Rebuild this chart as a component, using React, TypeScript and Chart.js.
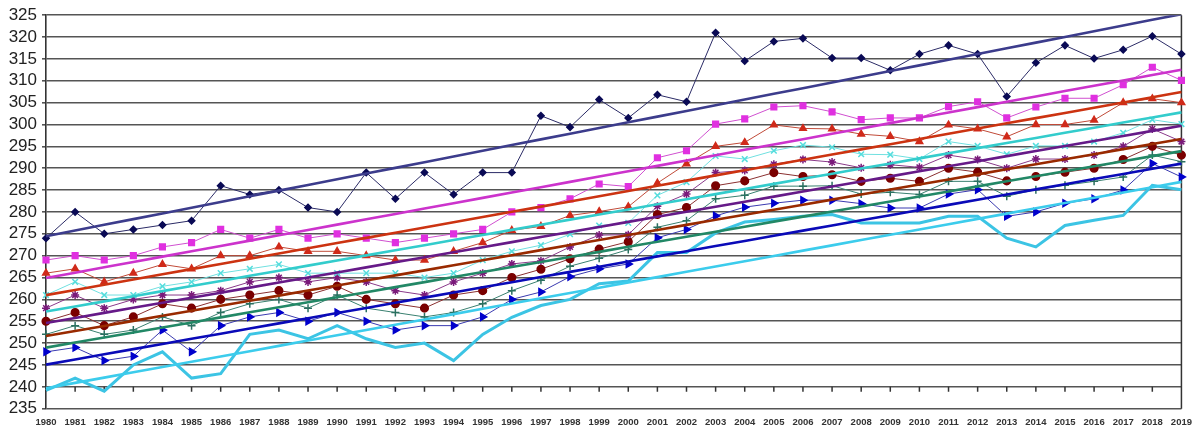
import React, { useEffect, useRef } from 'react';
import { Chart, registerables } from 'chart.js';

Chart.register(...registerables);

const years = [
  '1980', '1981', '1982', '1983', '1984', '1985', '1986', '1987', '1988', '1989',
  '1990', '1991', '1992', '1993', '1994', '1995', '1996', '1997', '1998', '1999',
  '2000', '2001', '2002', '2003', '2004', '2005', '2006', '2007', '2008', '2009',
  '2010', '2011', '2012', '2013', '2014', '2015', '2016', '2017', '2018', '2019',
];

// series, top to bottom
const navy = [274, 280, 275, 276, 277, 278, 286, 284, 285, 281, 280, 289, 283, 289, 284, 289, 289, 302, 299.4, 305.7,
  301.5, 306.8, 305.2, 321, 314.5, 319, 319.7, 315.2, 315.2, 312.4, 316.1, 318.1, 316.1, 306.4, 314.1, 318.1, 315.1, 317.1, 320.2, 316.1];
const magenta = [269, 270, 269, 270, 272, 273, 276, 274, 276, 274, 275, 274, 273, 274, 275, 276, 280, 281, 283, 286.4,
  285.8, 292.4, 294, 300.1, 301.3, 304, 304.3, 302.9, 301.1, 301.5, 301.5, 304.1, 305.2, 301.5, 304, 306, 306, 309.1, 313.1, 310.1];
const red = [266, 267, 264, 266, 268, 267, 270, 270, 272, 271, 271, 270, 269, 269, 271, 273, 275.8, 276.7, 279.2, 280.1,
  281.2, 286.6, 291, 295, 295.9, 299.9, 299.1, 299, 297.8, 297.3, 296.1, 299.9, 299, 297.2, 300, 300, 301, 305, 305.9, 305];
const cyan = [261, 264, 261, 261, 263, 264, 266, 267, 268, 266, 266, 266, 266, 265, 266, 269, 271, 272.4, 274.9, 276.9,
  277.5, 283.8, 286.8, 292.8, 292.1, 294, 295.3, 294.8, 293.2, 293.1, 292.1, 296.1, 295.1, 293.2, 295.1, 295.1, 296.1, 298.1, 301.1, 300.1];
const purple = [258, 261, 258, 260, 261, 261, 262, 264, 265, 264, 265, 264, 262, 261, 264, 266, 268.1, 268.8, 272, 274.7,
  274.8, 281.3, 284.1, 289, 289.5, 290.9, 292, 291.4, 290.1, 290.8, 290.2, 293, 292, 290, 292.1, 292.1, 293, 295, 299, 296.1];
const darkRed = [255, 257, 254, 256, 259, 258, 260, 261, 262, 261, 263, 260, 259, 258, 261, 262, 265, 266.9, 269.3, 271.5,
  273.2, 279.4, 281, 286, 287.1, 289, 288.1, 288.5, 287, 287.7, 287, 290, 289.1, 287.1, 288.1, 289.1, 290, 292, 295, 293];
const teal = [252, 254, 252, 253, 256, 254, 257, 259, 260, 258, 261, 258, 257, 256, 257, 259, 262, 264.4, 267.6, 269.4,
  271.4, 276.5, 278, 283, 283.8, 285.9, 285.9, 286, 284.1, 284.5, 284, 287, 287, 283.6, 285.1, 286.1, 287, 288, 293, 291.5];
const blue = [248, 249, 246, 247, 253, 248, 254, 256, 257, 255, 257, 255, 253, 254, 254, 256, 260, 261.7, 265.2, 267,
  268.1, 274.1, 276, 279.1, 281.1, 282, 282.7, 282.7, 281.9, 280.9, 280.9, 284.1, 285.1, 279, 280, 282, 283, 285, 291.1, 288];
const lightBlue = [239.2, 242, 239, 245, 248, 242, 243, 252, 253, 251, 254, 251, 249, 250, 246, 252, 255.9, 258.6, 260, 263.6,
  264.2, 270.7, 270.7, 275.2, 277.7, 278.3, 279, 279.4, 277.5, 277.5, 277.5, 279, 279, 274, 272, 276.9, 278.1, 279.2, 286.1, 285.1];

// least-squares trend, as Excel draws it
const trend = (vals: number[]) => {
  const n = vals.length;
  const mx = (n - 1) / 2;
  const my = vals.reduce((a, b) => a + b, 0) / n;
  let sxy = 0;
  let sxx = 0;
  vals.forEach((v, i) => {
    sxy += (i - mx) * (v - my);
    sxx += (i - mx) * (i - mx);
  });
  const b = sxy / sxx;
  return vals.map((_, i) => my + b * (i - mx));
};

const series = [
  { data: navy, line: '#2b2b66', point: '#0a0a55', style: 'rectRot', r: 3.2, trend: '#3c3c8c' },
  { data: magenta, line: '#d050d0', point: '#e030e0', style: 'rect', r: 4, trend: '#cc33cc' },
  { data: red, line: '#c04a38', point: '#d02a1a', style: 'triangle', r: 3.8, trend: '#cc3311' },
  { data: cyan, line: '#70e0e0', point: '#55dddd', style: 'crossRot', r: 4, trend: '#33cccc' },
  { data: purple, line: '#8a3a8a', point: '#7a1a7a', style: 'star', r: 4, trend: '#661a88' },
  { data: darkRed, line: '#8a3030', point: '#7a0000', style: 'circle', r: 3.8, trend: '#992a00' },
  { data: teal, line: '#3a8070', point: '#2a7060', style: 'cross', r: 4, trend: '#228866' },
  { data: blue, line: '#3a3ab0', point: '#0000cc', style: 'triangle', r: 4, rot: 90, trend: '#0a0ab8' },
  { data: lightBlue, line: '#3cc4e4', point: '#3cc4e4', style: 'circle', r: 0, trend: '#3cccec', thick: true },
];

const axisTicks = {
  id: 'axisTicks',
  beforeDatasetsDraw(chart: any) {
    const { ctx, chartArea, scales } = chart;
    const y240 = scales.y.getPixelForValue(240);
    ctx.save();
    ctx.strokeStyle = '#333';
    ctx.lineWidth = 1.5;
    ctx.beginPath();
    years.forEach((_, i) => {
      const x = scales.x.getPixelForValue(i);
      ctx.moveTo(x, y240);
      ctx.lineTo(x, y240 + 5);
    });
    ctx.moveTo(chartArea.right, chartArea.top);
    ctx.lineTo(chartArea.right, chartArea.bottom);
    ctx.stroke();
    ctx.restore();
  },
};

const App = () => {
  const canvasRef = useRef<HTMLCanvasElement>(null);

  useEffect(() => {
    const datasets: any[] = [];
    series.forEach((s) => {
      datasets.push({
        data: trend(s.data),
        borderColor: s.trend,
        borderWidth: 2.6,
        pointRadius: 0,
        order: 0,
      });
      datasets.push({
        data: s.data,
        borderColor: s.line,
        borderWidth: s.thick ? 3 : 1,
        pointStyle: s.style,
        pointRadius: s.r,
        pointRotation: s.rot || 0,
        pointBackgroundColor: s.point,
        pointBorderColor: s.point,
        pointBorderWidth: 1.5,
        order: 1,
      });
    });

    const chart = new Chart(canvasRef.current!, {
      type: 'line',
      data: { labels: years, datasets },
      options: {
        animation: false,
        responsive: true,
        maintainAspectRatio: false,
        layout: { padding: { top: 13, right: 10, left: 0, bottom: 0 } },
        elements: { line: { tension: 0 } },
        plugins: { legend: { display: false }, tooltip: { enabled: false } },
        scales: {
          x: {
            offset: false,
            grid: { display: false, drawTicks: false },
            border: { display: false },
            ticks: {
              autoSkip: false,
              maxRotation: 0,
              padding: 8,
              color: '#333',
              font: { family: 'Arial, "Liberation Sans"', size: 9.5, weight: 'bold' },
            },
            afterFit: (scale: any) => { scale.height = 26.3; },
          },
          y: {
            min: 235,
            max: 325,
            grid: { color: '#555', lineWidth: 1.6, tickLength: 4 },
            border: { display: true, color: '#333', width: 1.6 },
            ticks: {
              stepSize: 5,
              autoSkip: false,
              padding: 5,
              color: '#222',
              font: { family: 'Arial, "Liberation Sans"', size: 17 },
            },
            afterFit: (scale: any) => { scale.width = 46; },
          },
        },
      },
      plugins: [axisTicks],
    });
    return () => chart.destroy();
  }, []);

  return (
    <div style={{ position: 'absolute', left: 0, top: 0, width: 1200, height: 435, background: '#fff' }}>
      <canvas ref={canvasRef} />
    </div>
  );
};

export default App;
